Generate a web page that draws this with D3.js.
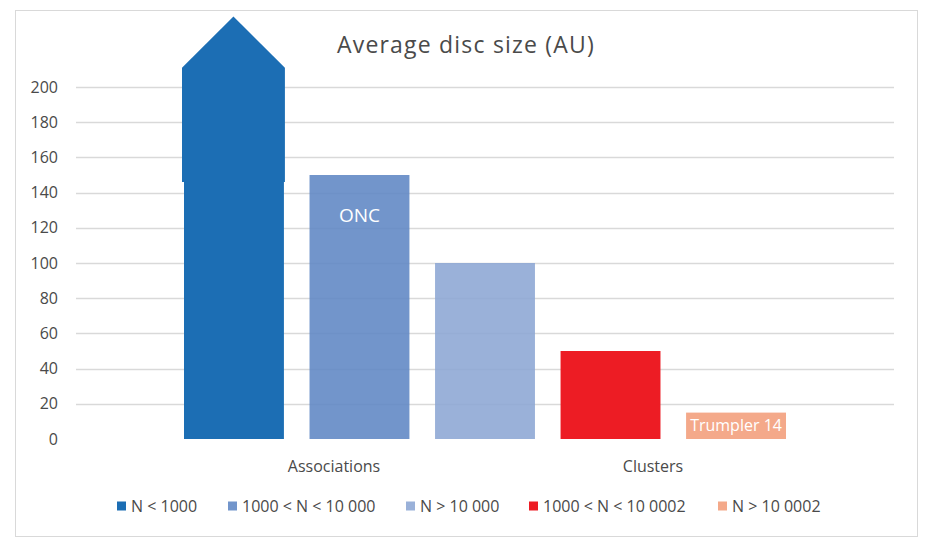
<!DOCTYPE html>
<html>
<head>
<meta charset="utf-8">
<script src="https://cdn.jsdelivr.net/npm/d3@7"></script>
<style>
  body { margin: 0; background: #fff; }
  text { font-family: "Open Sans", "Noto Sans", sans-serif; fill: #4a4a4a; }
</style>
</head>
<body>
<svg id="chart"></svg>
<script>
// Average disc size per stellar environment
const categories = ["Associations", "Clusters"];
const seriesNames = ["N < 1000", "1000 < N < 10 000", "N > 10 000", "1000 < N < 10 0002", "N > 10 0002"];
const seriesValues = [160, 150, 100, 50, 15];
const barLabels = ["", "ONC", "", "", "Trumpler 14"];
const colors = ["#1C6EB4", "#5E86C4", "#8CA6D4", "#ED1C24", "#F4A98A"];
const opacities = [1, 0.88, 0.88, 1, 1];
const yTicks = [0, 20, 40, 60, 80, 100, 120, 140, 160, 180, 200];
// arrow drawn over the first bar (value levels: base, shoulder, tip)
const arrowLevels = [146, 211, 240];

const W = 936, H = 555;
const svg = d3.select("#chart").attr("width", W).attr("height", H);

// chart frame
svg.append("rect")
    .attr("x", 15.5).attr("y", 10.5)
    .attr("width", 902).attr("height", 526)
    .attr("fill", "#fff")
    .attr("stroke", "#d9d9d9");

const y = d3.scaleLinear()
    .domain([0, 200])
    .range([439, 87]);

const x = d3.scaleBand()
    .domain(seriesNames)
    .range([171.2, 798.8])
    .paddingInner(0.204)
    .paddingOuter(0.102);

const xCat = d3.scalePoint()
    .domain(categories)
    .range([334, 653]);

// gridlines (no line at zero)
svg.append("g")
    .selectAll("line")
    .data(yTicks.filter(d => d > 0))
    .join("line")
    .attr("x1", 76).attr("x2", 894)
    .attr("y1", d => Math.round(y(d)) + 0.5)
    .attr("y2", d => Math.round(y(d)) + 0.5)
    .attr("stroke", "#d9d9d9")
    .attr("stroke-width", 1.5);

// y tick labels
svg.append("g")
    .selectAll("text")
    .data(yTicks)
    .join("text")
    .attr("x", 58)
    .attr("y", d => y(d))
    .attr("dy", "0.35em")
    .attr("text-anchor", "end")
    .style("font-size", "16px")
    .text(d => d);

// bars
svg.append("g")
    .selectAll("rect")
    .data(seriesValues)
    .join("rect")
    .attr("x", (d, i) => x(seriesNames[i]))
    .attr("width", x.bandwidth())
    .attr("y", d => y(d))
    .attr("height", d => y(0) - y(d))
    .attr("fill", (d, i) => colors[i])
    .attr("fill-opacity", (d, i) => opacities[i]);

// arrow on top of the first bar
const ax0 = x(seriesNames[0]) - 2;
const ax1 = x(seriesNames[0]) + x.bandwidth() + 1;
const axm = (ax0 + ax1) / 2;
svg.append("path")
    .attr("d", d3.line()([
      [ax0, y(arrowLevels[0])],
      [ax0, y(arrowLevels[1])],
      [axm, y(arrowLevels[2])],
      [ax1, y(arrowLevels[1])],
      [ax1, y(arrowLevels[0])]
    ]) + "Z")
    .attr("fill", colors[0]);

// bar labels
svg.append("g")
    .selectAll("text")
    .data(seriesValues)
    .join("text")
    .attr("x", (d, i) => x(seriesNames[i]) + x.bandwidth() / 2)
    .attr("y", (d, i) => i === 4 ? y(d / 2) : y(d) + 40)
    .attr("dy", "0.35em")
    .attr("text-anchor", "middle")
    .style("fill", "#fff")
    .style("font-size", (d, i) => i === 4 ? "16px" : "19px")
    .text((d, i) => barLabels[i]);

// category labels
svg.append("g")
    .selectAll("text")
    .data(categories)
    .join("text")
    .attr("x", d => xCat(d))
    .attr("y", 466)
    .attr("dy", "0.35em")
    .attr("text-anchor", "middle")
    .style("font-size", "16px")
    .text(d => d);

// title
svg.append("text")
    .attr("x", 466)
    .attr("y", 45)
    .attr("dy", "0.35em")
    .attr("text-anchor", "middle")
    .style("font-size", "23px")
    .style("letter-spacing", "1.2px")
    .text("Average disc size (AU)");

// legend
const legendX = [117, 228, 406, 529, 718];
const legend = svg.append("g")
    .selectAll("g")
    .data(seriesNames)
    .join("g")
    .attr("transform", (d, i) => `translate(${legendX[i]},506)`);

legend.append("rect")
    .attr("x", 0).attr("y", -4.5)
    .attr("width", 9).attr("height", 9)
    .attr("fill", (d, i) => colors[i])
    .attr("fill-opacity", (d, i) => opacities[i]);

legend.append("text")
    .attr("x", 14)
    .attr("y", 0)
    .attr("dy", "0.35em")
    .style("font-size", "16px")
    .text(d => d);
</script>
</body>
</html>
